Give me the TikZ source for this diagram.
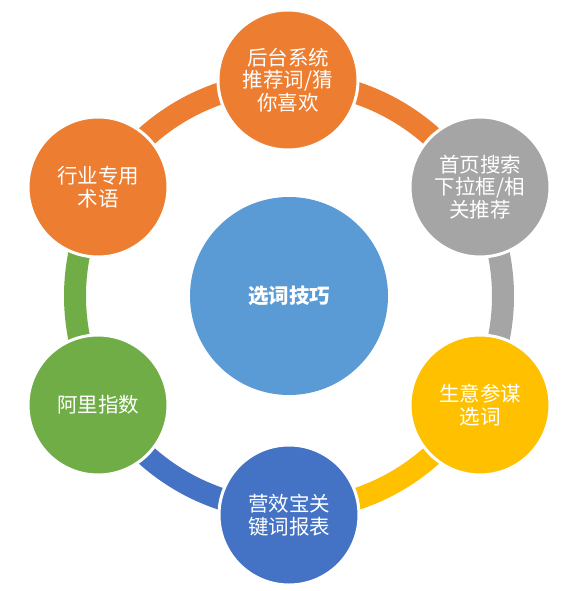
\documentclass[tikz,border=0pt]{standalone}
\usepackage{fontspec}
\setmainfont{Noto Sans CJK SC}
\usetikzlibrary{backgrounds}
\definecolor{corange}{HTML}{ED7D31}
\definecolor{cgray}{HTML}{A5A5A5}
\definecolor{cyellow}{HTML}{FFC000}
\definecolor{cblue}{HTML}{4472C4}
\definecolor{cgreen}{HTML}{70AD47}
\definecolor{ccenter}{HTML}{5B9BD5}
\tikzset{
  outer/.style={circle, fill=#1, draw=white, line width=3pt, minimum size=140pt,
    inner sep=0pt, align=center, text=white,
    font=\fontsize{20.5}{22.5}\selectfont},
  hub/.style={circle, fill=ccenter, minimum size=198pt, inner sep=0pt,
    text=white, font=\fontsize{20.5}{23}\selectfont\bfseries},
  ring/.style={line width=22pt, draw=#1},
}
\newcommand{\ringarc}[3]{\draw[ring=#1] (hub.center) ++(#2:214) arc[start angle=#2, end angle=#3, radius=214];}
\begin{document}
\begin{tikzpicture}[x=1pt,y=-1pt]
\useasboundingbox (0,0) rectangle (574,591);
\node[hub] (hub) at (289,296) {选词技巧};
\node[outer=corange] (top) at (288,80) {后台系统\\推荐词/猜\\你喜欢};
\node[outer=cgray] (ur) at (480,187) {首页搜索\\下拉框/相\\关推荐};
\node[outer=cyellow] (lr) at (480,405) {生意参谋\\选词};
\node[outer=cblue] (bot) at (289,515) {营效宝关\\键词报表};
\node[outer=cgreen] (ll) at (98,405) {阿里指数};
\node[outer=corange] (ul) at (98,187) {行业专用\\术语};
\begin{scope}[on background layer]
\ringarc{corange}{-90}{-30}
\ringarc{cgray}{-30}{30}
\ringarc{cyellow}{30}{90}
\ringarc{cblue}{90}{150}
\ringarc{cgreen}{150}{210}
\ringarc{corange}{210}{270}
\end{scope}
\end{tikzpicture}
\end{document}
